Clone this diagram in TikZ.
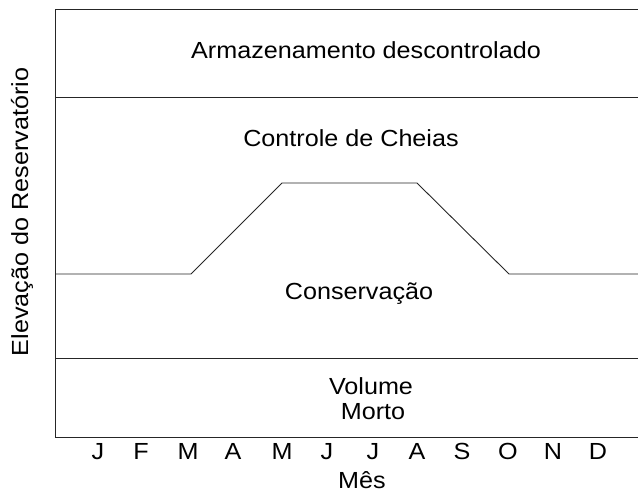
\documentclass[tikz,border=0pt]{standalone}
\usepackage{fontspec}
\setmainfont{Liberation Sans}[FakeStretch=1.08]
\begin{document}
\begin{tikzpicture}[x=1pt,y=-1pt,
  lbl/.style={font=\fontsize{23.3}{27}\selectfont, inner sep=0pt, anchor=base},
  ln/.style={line width=0.9pt, draw=black!85}]
\useasboundingbox (0,0) rectangle (638,494);
% frame
\coordinate (tl) at (55,9);
\coordinate (tr) at (638,9);
\coordinate (bl) at (55,437);
\coordinate (br) at (638,437);
\draw[ln] (tr) -- (tl) -- (bl) -- (br);
% zone lines
\coordinate (u1) at (55,97);
\coordinate (u2) at (638,97);
\draw[ln] (u1) -- (u2);
\coordinate (d1) at (55,358);
\coordinate (d2) at (638,358);
\draw[ln] (d1) -- (d2);
% rule curve
\coordinate (c0) at (55,274);
\coordinate (c1) at (191,274);
\coordinate (c2) at (282,183);
\coordinate (c3) at (417,183);
\coordinate (c4) at (509,274);
\coordinate (c5) at (638,274);
\draw[ln] (c0) -- (c1) -- (c2) -- (c3) -- (c4) -- (c5);
% zone labels
\node[lbl] (arm) at (366,58.3) {Armazenamento descontrolado};
\node[lbl] (cc) at (351,146.7) {Controle de Cheias};
\node[lbl] (cons) at (359,299.3) {Conservação};
\node[lbl] (vol) at (371,394.3) {Volume};
\node[lbl] (mor) at (373,420) {Morto};
% axis labels
\node[lbl, rotate=90] (ylab) at (28,212) {Elevação do Reservatório};
\node[lbl] (xlab) at (362,489) {Mês};
% months
\foreach \m/\x [count=\i] in {J/98,F/141,M/188,A/233,M/282,J/327,J/373,A/417,S/462,O/508,N/553,D/598} {
  \node[lbl] (m\i) at (\x,460) {\m};
}
\end{tikzpicture}
\end{document}
